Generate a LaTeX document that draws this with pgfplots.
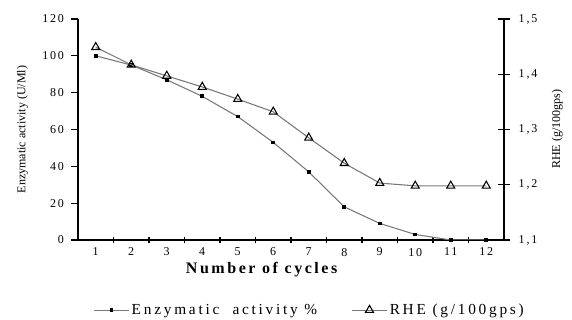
\documentclass[border=0pt]{standalone}
\usepackage{fontspec}
\setmainfont{Liberation Serif}
\usepackage{pgfplots}
\pgfplotsset{compat=1.18}
\definecolor{linegray}{RGB}{120,120,120}
\pgfplotsset{
  mylegend/.style={legend image code/.code={\draw[mark repeat=2,mark phase=2,##1] plot coordinates {(0cm,0cm) (0.45cm,0cm) (0.9cm,0cm)};}},
  ticklab/.style={tick label style={font=\small\addfontfeature{LetterSpace=15}}},
}
\begin{document}
\begin{tikzpicture}
\useasboundingbox (-58.5pt,-60pt) rectangle (370.5pt,180pt);
\begin{axis}[
  at={(0,0)}, anchor=origin, scale only axis,
  width=319.5pt, height=165.75pt,
  xmin=0.5, xmax=12.5, ymin=0, ymax=120,
  axis x line*=bottom, axis y line*=left,
  xtick={1,...,12}, major x tick style={draw=none},
  minor xtick={1.5,2.5,...,11.5},
  minor x tick style={black, thick},
  xtick align=center,
  minor tick length=5pt,
  ytick={0,20,...,120},
  ytick align=outside, major tick length=5pt,
  tick style={black, thick},
  axis line style={black, thick},
  ticklab,
  yticklabel style={xshift=-2pt},
  /pgf/number format/assume math mode=true,
  xlabel={\fontsize{12}{14}\selectfont\bfseries\addfontfeature{LetterSpace=16}Number of cycles},
  xlabel style={yshift=2pt, xshift=-22pt},
  ylabel={\fontsize{9}{11}\selectfont Enzymatic activity (U/Ml)},
  ylabel style={yshift=4pt},
  mylegend,
  legend style={draw=none, at={(0.545,-0.317)}, anchor=center, font=\fontsize{11.5}{13}\selectfont\addfontfeature{LetterSpace=18}, legend columns=2, /tikz/every even column/.append style={column sep=24pt}},
]
\addplot[linegray, thick, mark=square*, mark size=1pt, mark options={fill=black, draw=black}] coordinates {
(1,100) (2,95) (3,87) (4,78) (5,67) (6,53) (7,37) (8,18) (9,9) (10,3) (11,0) (12,0)};
\addlegendentry{Enzymatic\ \ activity \%}
\addlegendimage{linegray, thick, mark=triangle, mark size=3.5pt, mark options={draw=black, fill=white, solid}}
\addlegendentry{RHE (g/100gps)}
\end{axis}
\begin{axis}[
  at={(0,0)}, anchor=origin, scale only axis,
  width=319.5pt, height=165.75pt,
  xmin=0.5, xmax=12.5, ymin=1.1, ymax=1.5,
  axis x line=none, axis y line*=right,
  ytick={1.1,1.2,...,1.5},
  ytick align=center, major tick length=9pt,
  tick style={black, thick},
  axis line style={black, thick},
  ticklab,
  yticklabel style={xshift=3pt},
  /pgf/number format/.cd, use comma, fixed, precision=1, fixed zerofill, assume math mode=true, /pgfplots/.cd,
  ylabel={\fontsize{9}{11}\selectfont RHE (g/100gps)},
  ylabel style={yshift=-4pt},
]
\addplot[linegray, thick, mark=triangle, mark size=3.5pt, mark options={draw=black, fill=white, solid}] coordinates {
(1,1.449) (2,1.417) (3,1.397) (4,1.377) (5,1.355) (6,1.332) (7,1.285) (8,1.239) (9,1.203) (10,1.198) (11,1.198) (12,1.198)};
\end{axis}
\end{tikzpicture}
\end{document}
